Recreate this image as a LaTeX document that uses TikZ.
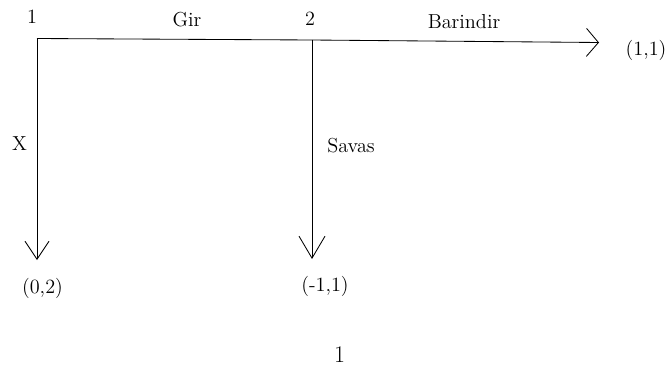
\documentclass[tikz,border=0pt]{standalone}
\usepackage{tikz}
\usetikzlibrary{arrows.meta}
\tikzset{
  hamle/.style 2 args={-{Straight Barb[length=#1, width=#2, line width=0.6pt]}, line width=0.6pt},
  etiket/.style={font=\fontsize{14.4}{17}\selectfont, inner sep=0pt},
}

\begin{document}
\begin{tikzpicture}[x=0.025cm, y=-0.025cm]
  \useasboundingbox (0,0) rectangle (668,369);
  % Oyuncularin karar noktalari ve oyunun bittigi yerler.
  \coordinate (o1) at (37,38.5);
  \coordinate (o2) at (312,40);
  \coordinate (sonB) at (599,42.5);
  \coordinate (sonX) at (37,260);
  \coordinate (sonS) at (312,259);
  % Hamleler.
  \draw[line width=0.6pt] (o1) -- (o2);
  \draw[hamle={3mm}{7mm}] (o2) -- (sonB);
  \draw[hamle={4.5mm}{6mm}] (o1) -- (sonX);
  \draw[hamle={5.5mm}{6.5mm}] (o2) -- (sonS);
  % Oyuncular, hamle adlari ve kazanclar.
  \node[etiket] (oy1) at (32,17) {1};
  \node[etiket] (oy2) at (310,19) {2};
  \node[etiket] (gir) at (187,19.5) {Gir};
  \node[etiket] (barindir) at (464,21.5) {Barindir};
  \node[etiket] (x) at (19.5,144) {X};
  \node[etiket] (savas) at (351,146) {Savas};
  \node[etiket] (kB) at (646,50) {(1,1)};
  \node[etiket] (kX) at (42.5,288) {(0,2)};
  \node[etiket] (kS) at (325,286) {(-1,1)};
  \node[font=\fontsize{17}{20}\selectfont, inner sep=0pt] (sayfa) at (339.5,354.5) {1};
\end{tikzpicture}
\end{document}
